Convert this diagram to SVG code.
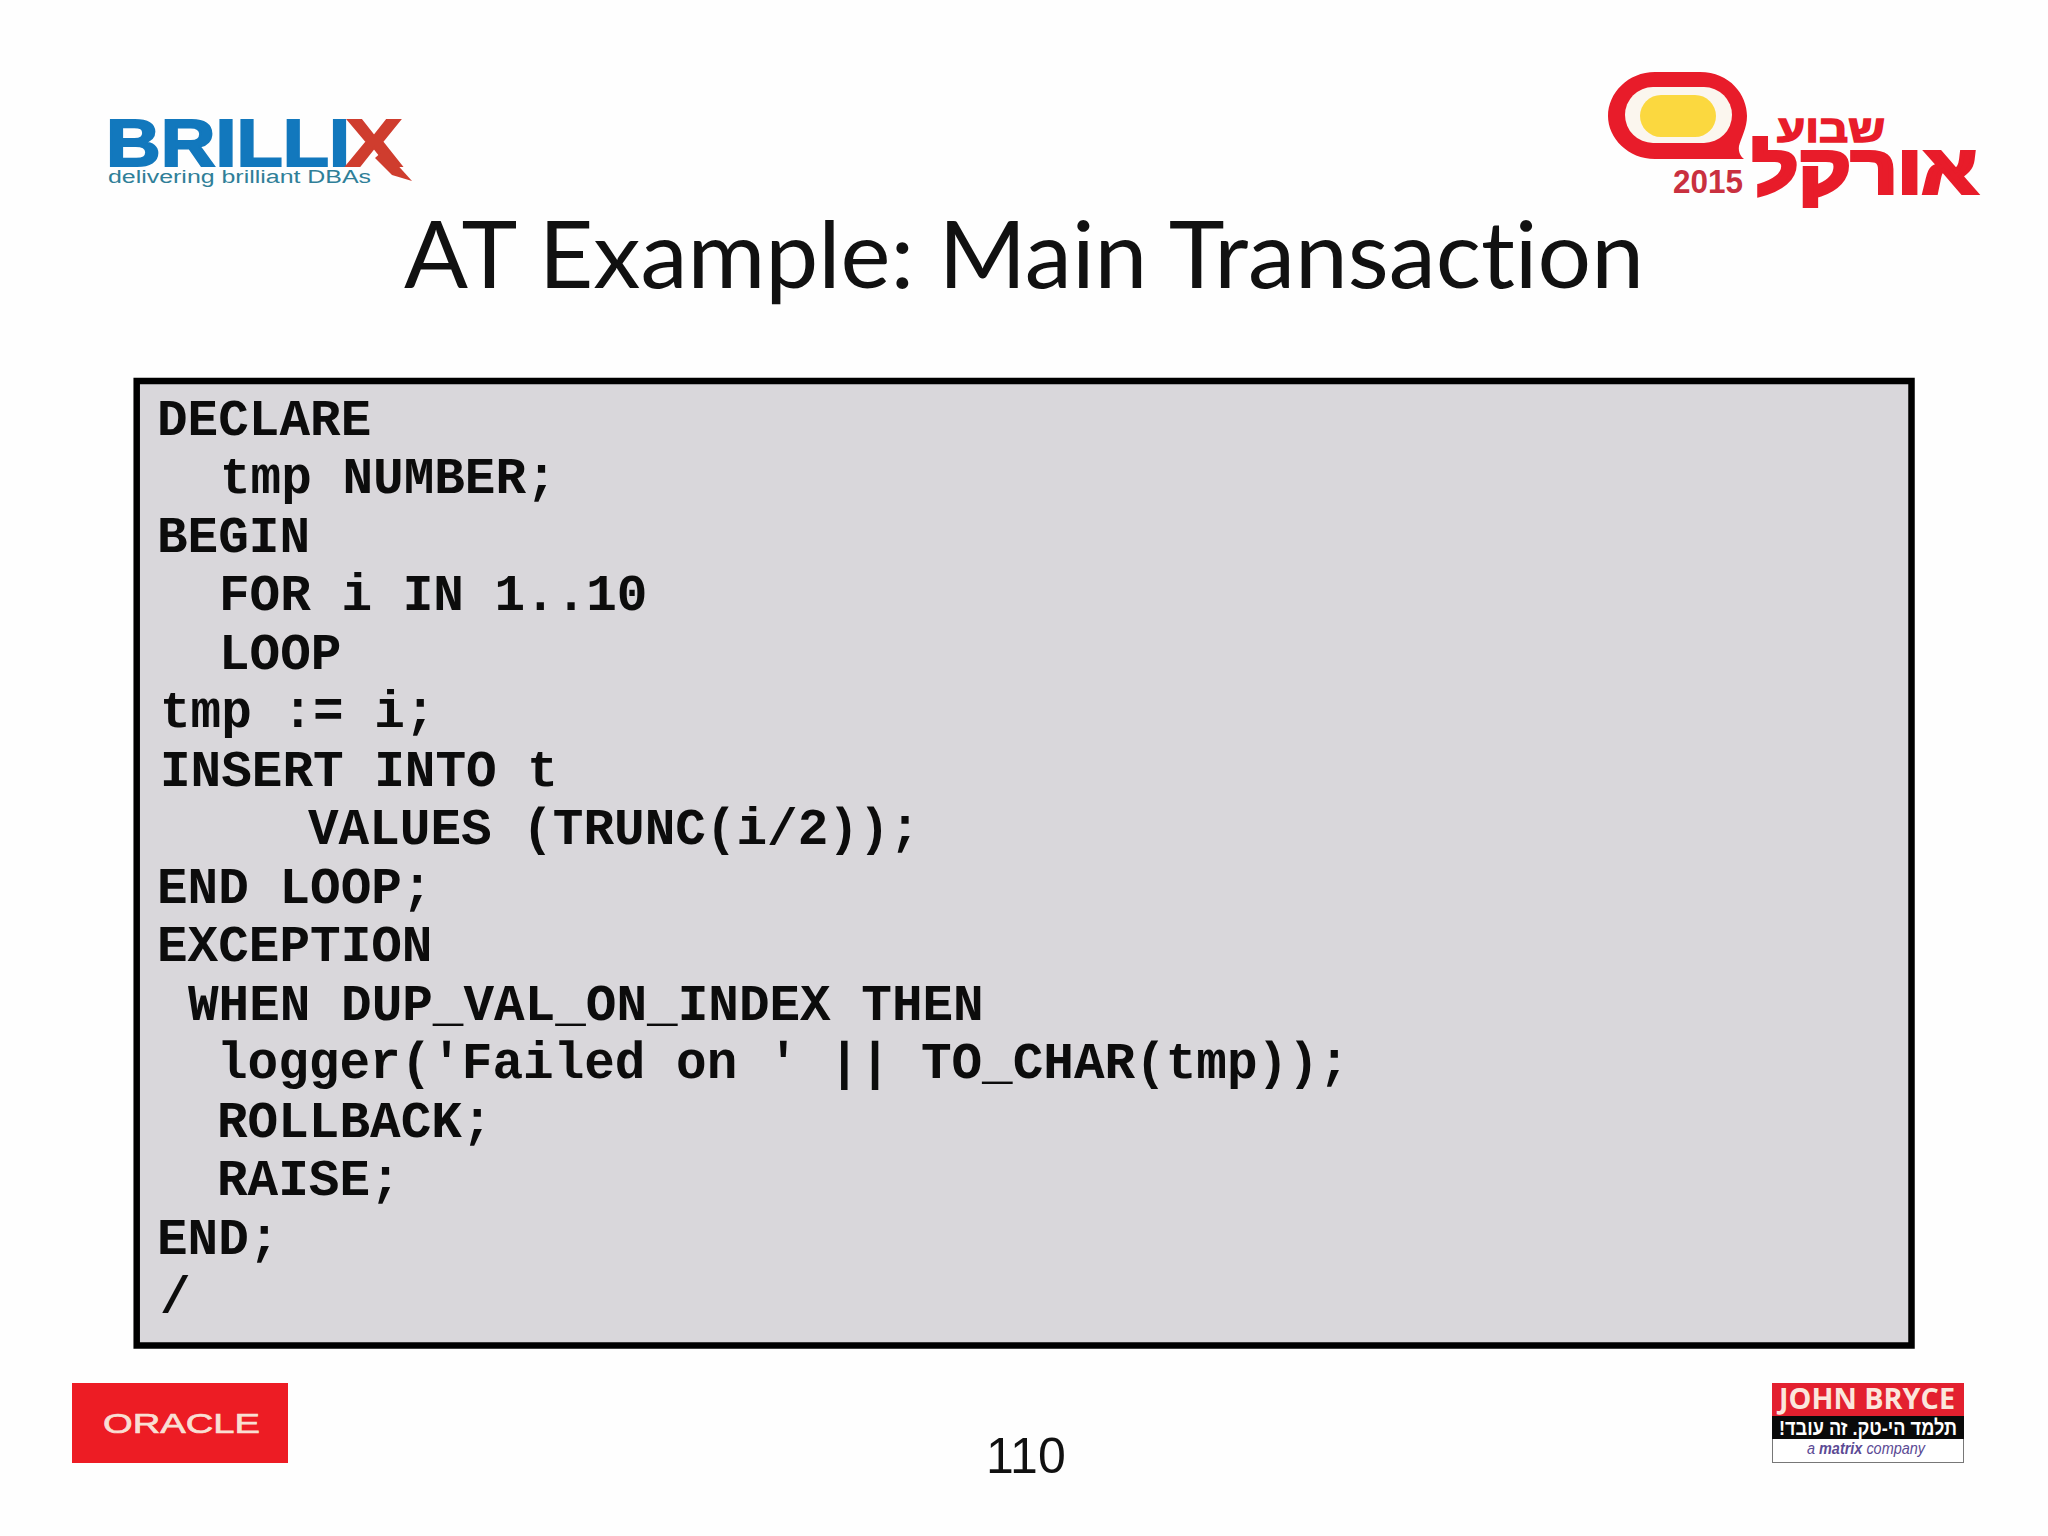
<svg xmlns="http://www.w3.org/2000/svg" width="2048" height="1536" viewBox="0 0 2048 1536">
<style>
.code{font-family:"Liberation Mono","DejaVu Sans Mono",monospace;font-weight:700;font-size:51px;fill:#0c0c0c;white-space:pre}
.sans{font-family:"Liberation Sans",Arial,sans-serif}
.heb{font-family:"Liberation Sans","DejaVu Sans",sans-serif;font-weight:700}
</style>
<rect width="2048" height="1536" fill="#fefefe"/>
<g id="brillix-logo">
<text class="sans" x="106" y="166" font-size="67" font-weight="700" fill="#1278bd" stroke="#1278bd" stroke-width="2" textLength="244" lengthAdjust="spacingAndGlyphs">BRILLI</text>
<text class="sans" x="346" y="166" font-size="67" font-weight="700" fill="#cf3d2e" stroke="#cf3d2e" stroke-width="2" textLength="56" lengthAdjust="spacingAndGlyphs">X</text>
<polygon points="384,150 412,181 392,175 375,158" fill="#cf3d2e"/>
<text class="sans" x="108" y="183" font-size="18" fill="#2f7f98" textLength="263" lengthAdjust="spacingAndGlyphs">delivering brilliant DBAs</text>
</g>
<g id="oracle-week-logo">
<path d="M1655 72H1700C1730 72 1747 95 1747 116C1747 128 1741 138 1739 146C1738 152 1741 157 1744 159H1655C1628 159 1608 138 1608 116C1608 93 1628 72 1655 72Z" fill="#e81c2a"/>
<rect x="1625" y="87" width="107" height="56" rx="28" fill="#fbf6ee"/>
<rect x="1640" y="95" width="76" height="42" rx="21" fill="#fbd83f"/>
<text class="sans" x="1673" y="193" font-size="33" font-weight="700" fill="#c9303f" textLength="70" lengthAdjust="spacingAndGlyphs">2015</text>
<text class="heb" x="1885" y="142" font-size="38" fill="#e81c2a" stroke="#e81c2a" stroke-width="1.500" style="direction:rtl" textLength="108" lengthAdjust="spacingAndGlyphs">שבוע</text>
<text class="heb" x="1977" y="193" font-size="68" fill="#e81c2a" stroke="#e81c2a" stroke-width="4" style="direction:rtl" textLength="225" lengthAdjust="spacingAndGlyphs">אורקל</text>
</g>
<g id="title">
<text x="404" y="288" font-family="Lato,'Open Sans',sans-serif" font-size="93" fill="#111" style="font-variant-ligatures:none" textLength="1240" lengthAdjust="spacingAndGlyphs">AT Example: Main Transaction</text>
</g>
<g id="code-box">
<rect x="136.700" y="381" width="1774.800" height="964.500" fill="#d9d7db" stroke="#000" stroke-width="6.500"/>
<text class="code" x="157" y="434.500">DECLARE</text>
<text class="code" x="220" y="493">tmp NUMBER;</text>
<text class="code" x="157" y="551.500">BEGIN</text>
<text class="code" x="219" y="610">FOR i IN 1..10</text>
<text class="code" x="219" y="668.500">LOOP</text>
<text class="code" x="160" y="727">tmp := i;</text>
<text class="code" x="160" y="785.500">INSERT INTO t</text>
<text class="code" x="308" y="844">VALUES (TRUNC(i/2));</text>
<text class="code" x="157" y="902.500">END LOOP;</text>
<text class="code" x="157" y="961">EXCEPTION</text>
<text class="code" x="188" y="1019.500">WHEN DUP_VAL_ON_INDEX THEN</text>
<text class="code" x="217" y="1078">logger('Failed on ' || TO_CHAR(tmp));</text>
<text class="code" x="217" y="1136.500">ROLLBACK;</text>
<text class="code" x="217" y="1195">RAISE;</text>
<text class="code" x="157" y="1253.500">END;</text>
<text class="code" x="160" y="1312">/</text>
</g>
<g id="oracle-logo">
<rect x="72" y="1383" width="216" height="80" fill="#ed1c24"/>
<text class="sans" x="103" y="1433" font-size="28" fill="#f9dfd3" stroke="#f9dfd3" stroke-width="0.700" textLength="157" lengthAdjust="spacingAndGlyphs">ORACLE</text>
</g>
<g id="page-number">
<text x="986" y="1473" class="sans" font-size="50" fill="#111">110</text>
</g>
<g id="john-bryce-logo">
<rect x="1772.500" y="1383.500" width="191" height="79" fill="#fff" stroke="#777" stroke-width="1"/>
<rect x="1772" y="1383" width="192" height="33" fill="#e3202f"/>
<rect x="1772" y="1416" width="192" height="23" fill="#0a0a0a"/>
<text x="1779" y="1409" font-family="'Open Sans',sans-serif" font-weight="700" font-size="29" fill="#fbe6dc" textLength="176" lengthAdjust="spacingAndGlyphs">JOHN BRYCE</text>
<text class="heb" x="1957" y="1435" font-size="21" fill="#fff" style="direction:rtl" textLength="178" lengthAdjust="spacingAndGlyphs">תלמד הי-טק. זה עובד!</text>
<text class="sans" x="1807" y="1454" font-size="16" font-style="italic" fill="#5b4a94" textLength="118" lengthAdjust="spacingAndGlyphs">a <tspan font-weight="700">matrix</tspan> company</text>
</g>
</svg>
